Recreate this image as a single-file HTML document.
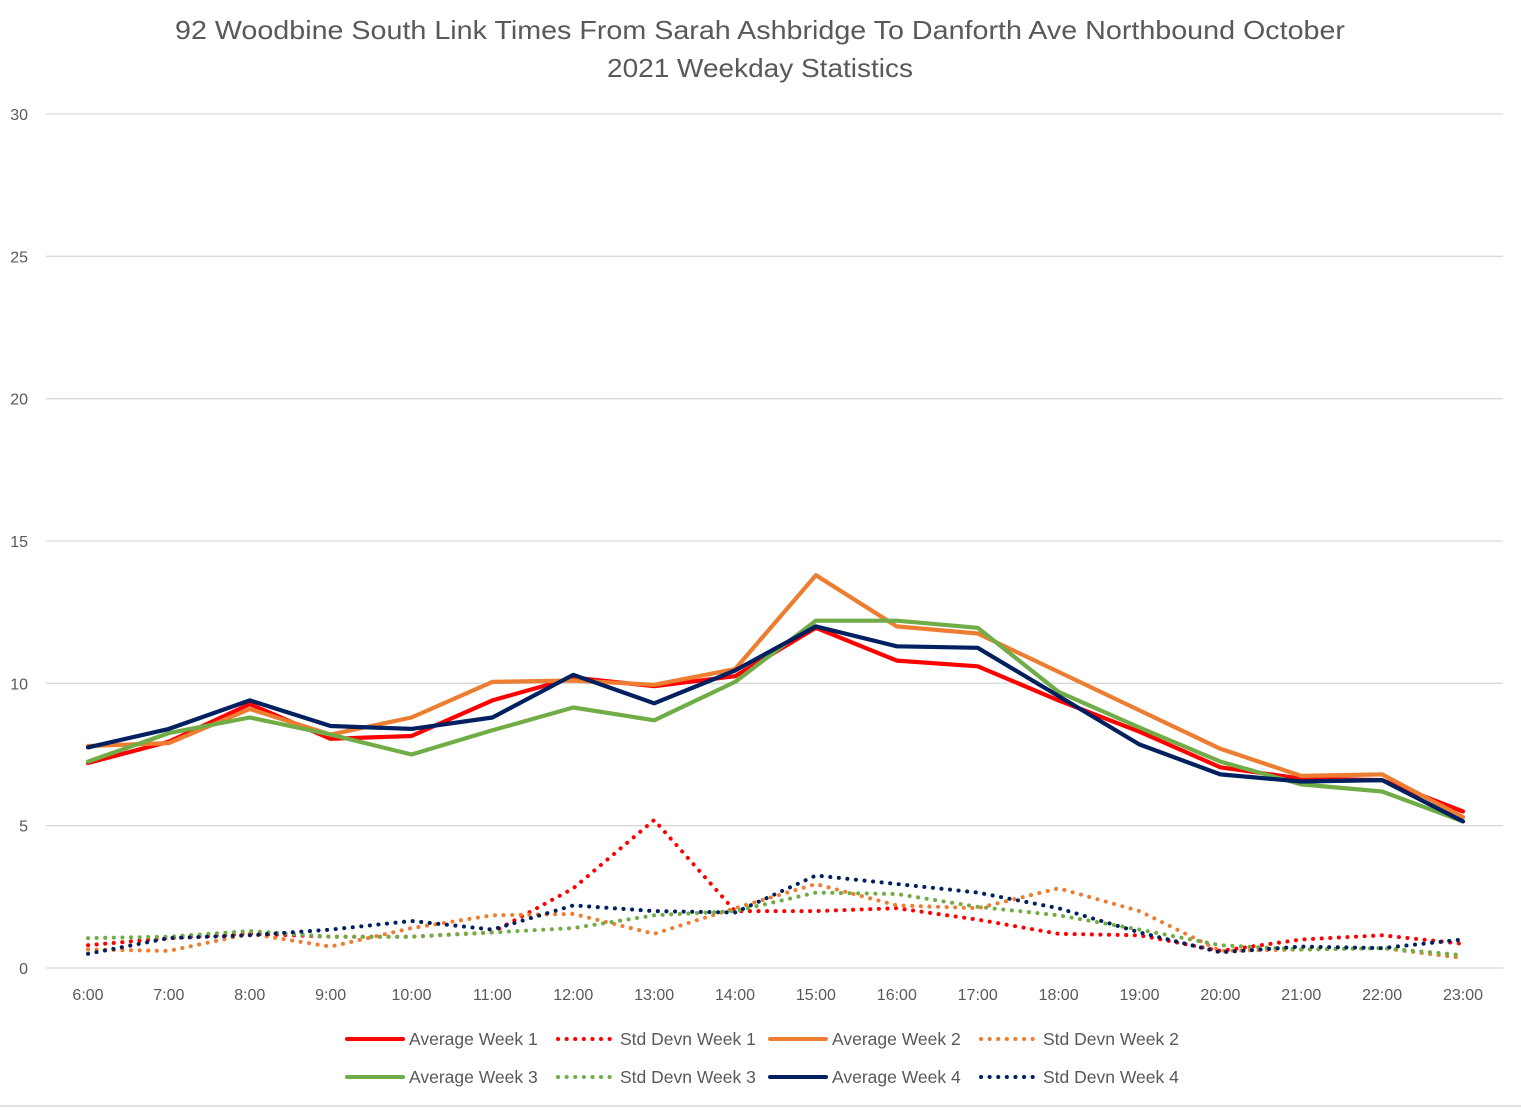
<!DOCTYPE html>
<html><head><meta charset="utf-8"><style>
body{margin:0;background:#fff;}
svg{display:block;font-family:"Liberation Sans",sans-serif;}
</style></head><body>
<svg id="chart" width="1521" height="1110" viewBox="0 0 1521 1110">
<rect x="0" y="0" width="1521" height="1110" fill="#fff"/>
<line x1="0" y1="1106" x2="1521" y2="1106" stroke="#d9d9d9" stroke-width="1.5"/>
<text x="175" y="39" textLength="1170" lengthAdjust="spacingAndGlyphs" font-size="26" fill="#595959">92 Woodbine South Link Times From Sarah Ashbridge To Danforth Ave Northbound October</text>
<text x="607" y="77" textLength="306" lengthAdjust="spacingAndGlyphs" font-size="26" fill="#595959">2021 Weekday Statistics</text>
<g id="grid"></g><g id="series"></g><g id="legend"></g>
</svg>
<script>
const categories=["6:00","7:00","8:00","9:00","10:00","11:00","12:00","13:00","14:00","15:00","16:00","17:00","18:00","19:00","20:00","21:00","22:00","23:00"];
const yTicks=[0,5,10,15,20,25,30];
const avgW1=[7.2,7.95,9.27,8.05,8.15,9.4,10.2,9.9,10.25,11.95,10.8,10.6,9.4,8.3,7.05,6.65,6.6,5.5];
const stdW1=[0.8,1.05,1.2,1.1,1.1,1.25,2.8,5.2,2.0,2.0,2.1,1.7,1.2,1.15,0.6,1.0,1.15,0.85];
const avgW2=[7.8,7.9,9.1,8.2,8.8,10.05,10.1,9.95,10.5,13.8,12.0,11.75,10.4,9.05,7.7,6.75,6.8,5.3];
const stdW2=[0.65,0.6,1.2,0.75,1.4,1.85,1.9,1.2,2.1,2.95,2.2,2.1,2.8,2.0,0.6,0.65,0.7,0.35];
const avgW3=[7.25,8.25,8.8,8.2,7.5,8.35,9.15,8.7,10.05,12.2,12.2,11.95,9.7,8.45,7.25,6.45,6.2,5.15];
const stdW3=[1.05,1.1,1.3,1.1,1.1,1.25,1.4,1.85,2.0,2.65,2.6,2.15,1.85,1.35,0.8,0.65,0.7,0.45];
const avgW4=[7.75,8.4,9.4,8.5,8.4,8.8,10.3,9.3,10.45,12.0,11.3,11.25,9.55,7.85,6.8,6.55,6.6,5.15];
const stdW4=[0.5,1.05,1.15,1.35,1.65,1.35,2.2,2.0,1.95,3.25,2.95,2.65,2.1,1.25,0.55,0.75,0.7,1.0];
const seriesNames=["Average Week 1","Std Devn Week 1","Average Week 2","Std Devn Week 2","Average Week 3","Std Devn Week 3","Average Week 4","Std Devn Week 4"];

const NS="http://www.w3.org/2000/svg";
const x0=88,x1=1463,yBase=968,yTop=114,yMax=30;
function xs(i){return x0+(x1-x0)*i/(categories.length-1);}
function ys(v){return yBase-(yBase-yTop)*v/yMax;}
function mk(tag,attrs,parent){const e=document.createElementNS(NS,tag);for(const k in attrs)e.setAttribute(k,attrs[k]);parent.appendChild(e);return e;}
const grid=document.getElementById('grid');
yTicks.forEach(t=>{
  const l=mk('line',{x1:46,x2:1503,y1:ys(t),y2:ys(t),stroke:'#d9d9d9','stroke-width':1.3},grid);
  
  
  const tx=mk('text',{x:28,y:ys(t)+6,'text-anchor':'end','font-size':16,fill:'#595959'},grid);
  tx.textContent=t;
  
  
});
categories.forEach((c,i)=>{
  const tx=mk('text',{x:xs(i),y:1000,'text-anchor':'middle','font-size':16,fill:'#595959'},grid);
  tx.textContent=c;
  
  
});
const colors=["#ff0000","#ff0000","#ed7d31","#ed7d31","#70ad47","#70ad47","#002060","#002060"];
const data=[avgW1,stdW1,avgW2,stdW2,avgW3,stdW3,avgW4,stdW4];
const sg=document.getElementById('series');
data.forEach((d,k)=>{
  const dotted=k%2===1;
  const pts=d.map((v,i)=>xs(i).toFixed(1)+','+ys(v).toFixed(1)).join(' ');
  const attrs={points:pts,fill:'none',stroke:colors[k],'stroke-width':dotted?4:4.2,'stroke-linejoin':'round','stroke-linecap':'round'};
  if(dotted)attrs['stroke-dasharray']='0.1 8.5';
  const p=mk('polyline',attrs,sg);
  
  
});
const lg=document.getElementById('legend');
const lx=[345,556,768,979],ly=[1039,1077];
seriesNames.forEach((n,k)=>{
  const col=k%4,row=Math.floor(k/4);
  const g=mk('g',{},lg);
  
  
  const a={x1:lx[col]+2,x2:lx[col]+58,y1:ly[row],y2:ly[row],stroke:colors[k],'stroke-width':4,'stroke-linecap':'round'};
  if(k%2===1)a['stroke-dasharray']='0.1 8.5';
  mk('line',a,g);
  const t=mk('text',{x:lx[col]+64,y:ly[row]+6,'font-size':17.5,fill:'#595959'},g);
  t.textContent=n;
});
</script>
</body></html>
